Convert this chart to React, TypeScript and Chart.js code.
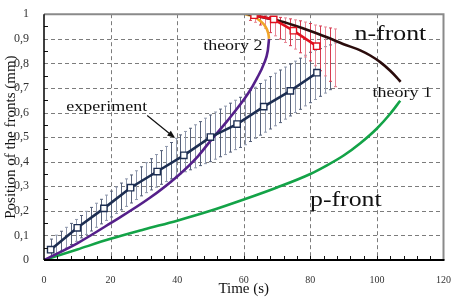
import React, { useEffect, useRef } from 'react';
import { Chart, registerables } from 'chart.js';

Chart.register(...registerables);

// ---- axis ticks ----
const xTickLabels = ['0', '20', '40', '60', '80', '100', '120'];
const yTickLabels = ['0', '0,1', '0,2', '0,3', '0,4', '0,5', '0,6', '0,7', '0,8', '0,9', '1'];

// ---- experiment: p-front (squares) ----
const expPTime = [2, 10, 18, 26, 34, 42, 50, 58, 66, 74, 82];
const expPPos = [0.042, 0.131, 0.21, 0.294, 0.36, 0.426, 0.5, 0.553, 0.624, 0.688, 0.762];

// ---- experiment: n-front (squares) ----
const expNTime = [63.1, 69, 74.9, 81.9];
const expNPos = [0.996, 0.979, 0.933, 0.87];

// ---- experiment error bars, p-front ----
const pErrTime = [2, 3.5, 5, 6.5, 8, 9.5, 11, 12.5, 14, 15.5, 17, 18.5, 20, 21.5, 23, 24.5, 26, 27.5, 29, 30.5, 32, 33.5, 35, 36.5, 38, 39.5, 41, 42.5, 44, 45.5, 47, 48.5, 50, 51.5, 53, 54.5, 56, 57.5, 59, 60.5, 62, 63.5, 65, 66.5, 68, 69.5, 71, 72.5, 74, 75.5, 77, 78.5, 80, 81.5, 83, 84.5, 86, 87.5];
const pErrHigh = [0.085, 0.101, 0.117, 0.133, 0.149, 0.165, 0.181, 0.198, 0.214, 0.231, 0.247, 0.264, 0.28, 0.297, 0.313, 0.33, 0.346, 0.363, 0.379, 0.396, 0.412, 0.429, 0.445, 0.462, 0.478, 0.495, 0.509, 0.523, 0.536, 0.55, 0.563, 0.577, 0.59, 0.602, 0.614, 0.626, 0.638, 0.65, 0.662, 0.675, 0.689, 0.703, 0.718, 0.732, 0.746, 0.76, 0.773, 0.785, 0.797, 0.809, 0.821, 0.833, 0.845, 0.853, 0.86, 0.868, 0.875, 0.883];
const pErrLow = [0.01, 0.023, 0.036, 0.049, 0.063, 0.076, 0.09, 0.104, 0.118, 0.133, 0.147, 0.161, 0.175, 0.189, 0.204, 0.218, 0.232, 0.246, 0.261, 0.274, 0.285, 0.296, 0.308, 0.319, 0.33, 0.341, 0.351, 0.359, 0.367, 0.375, 0.384, 0.392, 0.4, 0.41, 0.42, 0.429, 0.439, 0.449, 0.458, 0.469, 0.482, 0.495, 0.508, 0.52, 0.533, 0.546, 0.559, 0.573, 0.586, 0.6, 0.613, 0.627, 0.64, 0.653, 0.666, 0.679, 0.693, 0.706];

// ---- experiment error bars, n-front ----
const nErrTime = [62, 63.5, 65, 66.5, 68, 69.5, 71, 72.5, 74, 75.5, 77, 78.5, 80, 81.5, 83, 84.5, 86, 87.5];
const nErrHigh = [1.0, 1.0, 1.0, 0.995, 0.99, 0.988, 0.987, 0.985, 0.981, 0.977, 0.973, 0.968, 0.962, 0.956, 0.952, 0.948, 0.944, 0.94];
const nErrLow = [0.975, 0.967, 0.956, 0.943, 0.925, 0.912, 0.899, 0.885, 0.872, 0.858, 0.843, 0.826, 0.81, 0.79, 0.77, 0.749, 0.727, 0.705];

// ---- theory 1 ----
const th1PTime = [0, 10, 20, 30, 40, 50, 60, 70, 80, 85, 90, 95, 100, 104, 107];
const th1PPos = [0, 0.043, 0.086, 0.124, 0.16, 0.2, 0.246, 0.295, 0.35, 0.385, 0.425, 0.475, 0.535, 0.595, 0.648];
const th1NTime = [61.2, 65, 70, 75, 80, 85, 90, 95, 98, 101, 104, 106, 107.1];
const th1NPos = [1.0, 0.99, 0.975, 0.955, 0.932, 0.906, 0.878, 0.853, 0.832, 0.805, 0.77, 0.742, 0.725];

// ---- theory 2 ----
const th2PTime = [0, 10, 20, 31.5, 40, 46.3, 50.3, 55, 61.2, 64, 66.1, 67.2, 67.6];
const th2PPos = [0, 0.068, 0.15, 0.25, 0.34, 0.423, 0.49, 0.565, 0.675, 0.74, 0.8, 0.85, 0.9];
const th2NTime = [67.6, 67.3, 66.5, 65, 63, 60.5];
const th2NPos = [0.9, 0.925, 0.95, 0.972, 0.99, 1.0];

// ---- annotations (data coordinates) ----
const labelTexts = ['experiment', 'theory 2', 'n-front', 'theory 1', 'p-front'];
const labelTimes = [6.7, 47.8, 93.3, 98.7, 79.9];
const labelPos = [0.608, 0.853, 0.896, 0.664, 0.218];
const labelSizes = [15, 15, 21.5, 15, 21.5];
const arrowFrom = [31.0, 0.588];
const arrowTo = [39.4, 0.496];

const pts = (xs: number[], ys: number[]) => xs.map((x, i) => ({ x, y: ys[i] }));

const SERIF = "'Liberation Serif', 'Times New Roman', serif";

const decorPlugin = {
  id: 'decor',
  beforeDatasetsDraw(chart: any) {
    const { ctx, chartArea, scales } = chart;
    const sx = scales.x, sy = scales.y;
    const { left, right, top, bottom } = chartArea;
    ctx.save();
    // dashed grid
    ctx.strokeStyle = '#7c7c7c';
    ctx.lineWidth = 1;
    ctx.setLineDash([4, 3]);
    ctx.beginPath();
    sx.ticks.forEach((t: any) => {
      if (t.value <= 0 || t.value >= 120) return;
      const px = Math.round(sx.getPixelForValue(t.value)) + 0.5;
      ctx.moveTo(px, top);
      ctx.lineTo(px, bottom);
    });
    sy.ticks.forEach((t: any) => {
      if (t.value <= 0.001 || t.value >= 0.999) return;
      const py = Math.round(sy.getPixelForValue(t.value)) + 0.5;
      ctx.moveTo(left, py);
      ctx.lineTo(right, py);
    });
    ctx.stroke();
    ctx.setLineDash([]);
    ctx.beginPath();
    ctx.rect(left, top, right - left, bottom - top);
    ctx.clip();
    const drawSet = (xs: number[], lo: number[], hi: number[], colors: string[]) => {
      xs.forEach((t, i) => {
        const px = Math.round(sx.getPixelForValue(t)) + 0.5;
        const p1 = sy.getPixelForValue(lo[i]);
        const p2 = sy.getPixelForValue(hi[i]);
        ctx.strokeStyle = colors[i % 2];
        ctx.lineWidth = 1;
        ctx.beginPath();
        ctx.moveTo(px, p1);
        ctx.lineTo(px, p2);
        ctx.moveTo(px - 1.5, p1);
        ctx.lineTo(px + 1.5, p1);
        ctx.moveTo(px - 1.5, p2);
        ctx.lineTo(px + 1.5, p2);
        ctx.stroke();
      });
    };
    drawSet(pErrTime, pErrLow, pErrHigh, ['#56617a', '#9099ad']);
    drawSet(nErrTime, nErrLow, nErrHigh, ['#d63a50', '#e88896']);
    ctx.restore();
  },
  afterDatasetsDraw(chart: any) {
    const { ctx, chartArea, scales } = chart;
    const sx = scales.x, sy = scales.y;
    const { left, right, top, bottom } = chartArea;
    ctx.save();
    // minor ticks
    ctx.strokeStyle = '#111';
    ctx.lineWidth = 1;
    ctx.beginPath();
    for (let t = 4; t < 120; t += 4) {
      const px = Math.round(sx.getPixelForValue(t)) + 0.5;
      ctx.moveTo(px, bottom);
      ctx.lineTo(px, bottom - 4);
    }
    for (let k = 1; k < 20; k += 2) {
      const py = Math.round(sy.getPixelForValue(k * 0.05)) + 0.5;
      ctx.moveTo(left, py);
      ctx.lineTo(left + 4, py);
    }
    ctx.stroke();
    // frame: top and right grey
    ctx.strokeStyle = '#8a8a8a';
    ctx.lineWidth = 2;
    ctx.beginPath();
    ctx.moveTo(left, top);
    ctx.lineTo(right, top);
    ctx.lineTo(right, bottom);
    ctx.stroke();
    // axes: left and bottom black
    ctx.strokeStyle = '#000';
    ctx.lineWidth = 1.5;
    ctx.beginPath();
    ctx.moveTo(left, top);
    ctx.lineTo(left, bottom);
    ctx.stroke();
    ctx.lineWidth = 2;
    ctx.beginPath();
    ctx.moveTo(left, bottom);
    ctx.lineTo(right + 1, bottom);
    ctx.stroke();
    // labels
    ctx.fillStyle = '#111';
    ctx.textBaseline = 'alphabetic';
    ctx.textAlign = 'left';
    labelTexts.forEach((txt, i) => {
      const px = sx.getPixelForValue(labelTimes[i]);
      const py = sy.getPixelForValue(labelPos[i]);
      ctx.save();
      ctx.translate(px, py);
      ctx.scale(1.2, 1);
      ctx.font = `${labelSizes[i]}px ${SERIF}`;
      ctx.fillText(txt, 0, 0);
      ctx.restore();
    });
    // arrow
    const ax1 = sx.getPixelForValue(arrowFrom[0]);
    const ay1 = sy.getPixelForValue(arrowFrom[1]);
    const ax2 = sx.getPixelForValue(arrowTo[0]);
    const ay2 = sy.getPixelForValue(arrowTo[1]);
    const ang = Math.atan2(ay2 - ay1, ax2 - ax1);
    ctx.strokeStyle = '#111';
    ctx.lineWidth = 1.2;
    ctx.beginPath();
    ctx.moveTo(ax1, ay1);
    ctx.lineTo(ax2 - 5 * Math.cos(ang), ay2 - 5 * Math.sin(ang));
    ctx.stroke();
    ctx.beginPath();
    ctx.moveTo(ax2, ay2);
    ctx.lineTo(ax2 - 8 * Math.cos(ang) + 3 * Math.sin(ang), ay2 - 8 * Math.sin(ang) - 3 * Math.cos(ang));
    ctx.lineTo(ax2 - 8 * Math.cos(ang) - 3 * Math.sin(ang), ay2 - 8 * Math.sin(ang) + 3 * Math.cos(ang));
    ctx.closePath();
    ctx.fill();
    ctx.restore();
  },
};

export default function App() {
  const ref = useRef<HTMLCanvasElement | null>(null);
  useEffect(() => {
    document.body.style.margin = '0';
    const canvas = ref.current;
    if (!canvas) return;
    const curve = (xs: number[], ys: number[], color: string, monotone: boolean) => ({
      data: pts(xs, ys),
      showLine: true,
      borderColor: color,
      borderWidth: 2.6,
      pointRadius: 0,
      tension: 0.4,
      cubicInterpolationMode: monotone ? 'monotone' : 'default',
      fill: false,
    });
    const chart = new Chart(canvas, {
      type: 'scatter',
      data: {
        datasets: [
          {
            data: pts(expPTime, expPPos),
            showLine: true,
            borderColor: '#1d2e52',
            borderWidth: 2.6,
            pointStyle: 'rect',
            pointRadius: 4.5,
            pointBackgroundColor: '#ffffff',
            pointBorderColor: '#1d2e52',
            pointBorderWidth: 1.4,
            tension: 0,
          },
          {
            data: pts(expNTime, expNPos),
            showLine: true,
            borderColor: '#e0101e',
            borderWidth: 2.6,
            pointStyle: 'rect',
            pointRadius: 4.5,
            pointBackgroundColor: '#ffffff',
            pointBorderColor: '#e0101e',
            pointBorderWidth: 1.4,
            tension: 0,
          },
          curve(th1NTime, th1NPos, '#2a0c0c', true),
          curve(th2NTime, th2NPos, '#f0a52a', false),
          curve(th2PTime, th2PPos, '#55208a', true),
          curve(th1PTime, th1PPos, '#13a347', true),
        ] as any,
      },
      options: {
        animation: false,
        responsive: false,
        devicePixelRatio: 1,
        layout: { padding: { top: 8, right: 9, left: 0, bottom: 0 } },
        plugins: { legend: { display: false }, tooltip: { enabled: false } },
        scales: {
          x: {
            type: 'linear',
            min: 0,
            max: 120,
            afterFit: (s: any) => { s.height = 41; },
            ticks: {
              stepSize: 20,
              padding: 6,
              color: '#333',
              font: { family: SERIF, size: 10 },
              callback: (_v: any, i: number) => xTickLabels[i],
              maxRotation: 0,
            },
            grid: { display: false },
            border: { display: false },
            title: {
              display: true,
              text: 'Time (s)',
              color: '#111',
              font: { family: SERIF, size: 15 },
              padding: { top: 0, bottom: 3 },
            },
          },
          y: {
            type: 'linear',
            min: 0,
            max: 1,
            afterFit: (s: any) => { s.width = 44; },
            ticks: {
              stepSize: 0.1,
              padding: 7,
              color: '#333',
              font: { family: SERIF, size: 12 },
              callback: (_v: any, i: number) => yTickLabels[i],
            },
            grid: { display: false },
            border: { display: false },
            title: {
              display: true,
              text: 'Position of the fronts (mm)',
              color: '#111',
              font: { family: SERIF, size: 15 },
              padding: { top: 2, bottom: 0 },
            },
          },
        },
      },
      plugins: [decorPlugin],
    });
    return () => chart.destroy();
  }, []);
  return (
    <div style={{ position: 'absolute', left: 0, top: 0, width: 457, height: 301 }}>
      <canvas ref={ref} width={457} height={301} />
    </div>
  );
}
